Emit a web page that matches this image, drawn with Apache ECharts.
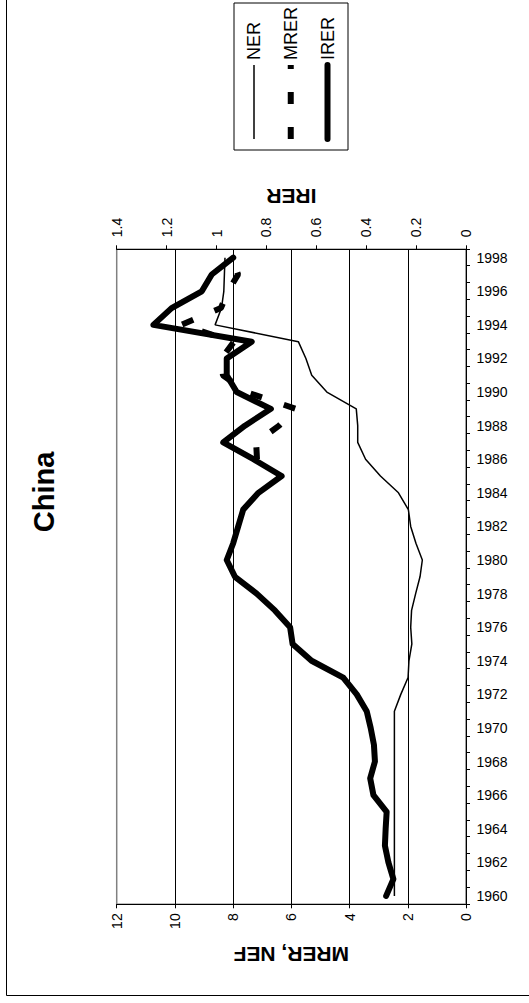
<!DOCTYPE html>
<html>
<head>
<meta charset="utf-8">
<script src="https://cdn.jsdelivr.net/npm/echarts@6/dist/echarts.min.js"></script>
<style>
html, body { margin: 0; padding: 0; background: #fff; width: 529px; height: 1003px; overflow: hidden; }
#chart { position: absolute; left: 0; top: 0; width: 1003px; height: 529px;
  transform-origin: 0 0; transform: translateY(1003px) rotate(-90deg); }
</style>
</head>
<body>
<div id="chart"></div>
<script>
const years = [];
for (let y = 1960; y <= 1998; y++) years.push(String(y));

const seriesNames = ['NER', 'MRER', 'IRER'];

// NER (left axis, 0-12)
const ner = [2.46, 2.46, 2.46, 2.46, 2.46, 2.46, 2.46, 2.46, 2.46, 2.46,
  2.46, 2.46, 2.24, 1.99, 1.96, 1.86, 1.90, 1.87, 1.73, 1.58,
  1.50, 1.72, 1.90, 1.98, 2.32, 2.94, 3.45, 3.72, 3.72, 3.77,
  4.78, 5.30, 5.50, 5.76, 8.62, 8.40, 8.32, 8.30, 8.28];

// MRER (left axis, 0-12), available from 1986
const mrer = [null, null, null, null, null, null, null, null, null, null,
  null, null, null, null, null, null, null, null, null, null,
  null, null, null, null, null, null, 7.18, 7.21, 6.42, 5.84,
  7.56, 8.35, 8.40, 7.97, 9.79, 8.42, 8.18, 7.83, 8.04];

// IRER (right axis, 0-1.4)
const irer = [0.320, 0.291, 0.311, 0.325, 0.322, 0.318, 0.371, 0.384, 0.365, 0.369,
  0.382, 0.398, 0.438, 0.492, 0.619, 0.695, 0.705, 0.766, 0.839, 0.926,
  0.959, 0.933, 0.913, 0.893, 0.832, 0.739, 0.852, 0.973, 0.886, 0.782,
  0.919, 0.959, 0.959, 0.859, 1.253, 1.180, 1.059, 1.019, 0.933];

const FONT = '"Liberation Sans", Arial, sans-serif';

const chart = echarts.init(document.getElementById('chart'), null, { renderer: 'svg' });

const hidden = { opacity: 0, borderWidth: 0 };

const option = {
  animation: false,
  backgroundColor: '#ffffff',
  color: ['#000000', '#000000', '#000000'],
  textStyle: { fontFamily: FONT, color: '#000' },
  title: {
    text: 'China',
    left: 511, top: 29, textAlign: 'center', padding: 0,
    textStyle: { fontFamily: FONT, fontSize: 29, fontWeight: 'bold', color: '#000' }
  },
  legend: {
    data: [
      { name: seriesNames[0], itemStyle: hidden, lineStyle: { width: 1.5, type: 'solid', cap: 'butt' } },
      { name: seriesNames[1], itemStyle: hidden, lineStyle: { width: 6, type: [12, 23], cap: 'butt' } },
      { name: seriesNames[2], itemStyle: hidden, lineStyle: { width: 6, type: 'solid', cap: 'round' } }
    ],
    orient: 'vertical',
    left: 853, top: 234,
    itemWidth: 74, itemHeight: 14, itemGap: 18.75,
    padding: [11, 4, 11.5, 8],
    borderColor: '#000', borderWidth: 1,
    backgroundColor: '#fff',
    textStyle: { fontFamily: FONT, fontSize: 18, color: '#000' }
  },
  grid: {
    left: 98.7, top: 116.7, width: 655, height: 349.3,
    show: true, borderColor: '#808080', borderWidth: 1.5, backgroundColor: '#fff'
  },
  xAxis: {
    type: 'category', data: years, boundaryGap: true,
    axisLine: { lineStyle: { color: '#000', width: 1 } },
    axisTick: { show: true, interval: 0, length: 4, lineStyle: { color: '#000' } },
    axisLabel: { interval: 1, rotate: -90, margin: 10.5, fontSize: 14, color: '#000', fontFamily: FONT },
    splitLine: { show: false }
  },
  yAxis: [
    {
      type: 'value', min: 0, max: 12, interval: 2, position: 'left',
      name: 'MRER, NEF', nameLocation: 'middle', nameRotate: 90, nameGap: 40,
      nameTextStyle: { fontFamily: FONT, fontSize: 21, fontWeight: 'bold', color: '#000' },
      axisLine: { show: true, lineStyle: { color: '#000', width: 1 } },
      axisTick: { show: true, length: 4, lineStyle: { color: '#000' } },
      axisLabel: { fontSize: 14, color: '#000', margin: 9, fontFamily: FONT },
      splitLine: { show: true, showMinLine: false, showMaxLine: false, lineStyle: { color: '#000', width: 1 } }
    },
    {
      type: 'value', min: 0, max: 1.4, interval: 0.2, position: 'right',
      name: 'IRER', nameLocation: 'middle', nameRotate: 90, nameGap: 41,
      nameTextStyle: { fontFamily: FONT, fontSize: 21, fontWeight: 'bold', color: '#000' },
      axisLine: { show: true, lineStyle: { color: '#000', width: 1 } },
      axisTick: { show: true, length: 4, lineStyle: { color: '#000' } },
      axisLabel: { fontSize: 14, color: '#000', margin: 12, fontFamily: FONT },
      splitLine: { show: false }
    }
  ],
  graphic: [{
    type: 'rect', silent: true, z: 100,
    shape: { x: 7.5, y: 6.5, width: 1100, height: 600 },
    style: { fill: 'none', stroke: '#000', lineWidth: 1 }
  }],
  series: [
    {
      name: 'NER', type: 'line', yAxisIndex: 0, data: ner, symbol: 'none',
      lineStyle: { color: '#000', width: 1.5 }, itemStyle: { color: '#000' }
    },
    {
      name: 'MRER', type: 'line', yAxisIndex: 0, data: mrer, symbol: 'none',
      lineStyle: { color: '#000', width: 6, type: [12, 23], cap: 'butt' }, itemStyle: { color: '#000' }
    },
    {
      name: 'IRER', type: 'line', yAxisIndex: 1, data: irer, symbol: 'none',
      lineStyle: { color: '#000', width: 6, cap: 'round', join: 'round' }, itemStyle: { color: '#000' }
    }
  ]
};
chart.setOption(option);
</script>
</body>
</html>
